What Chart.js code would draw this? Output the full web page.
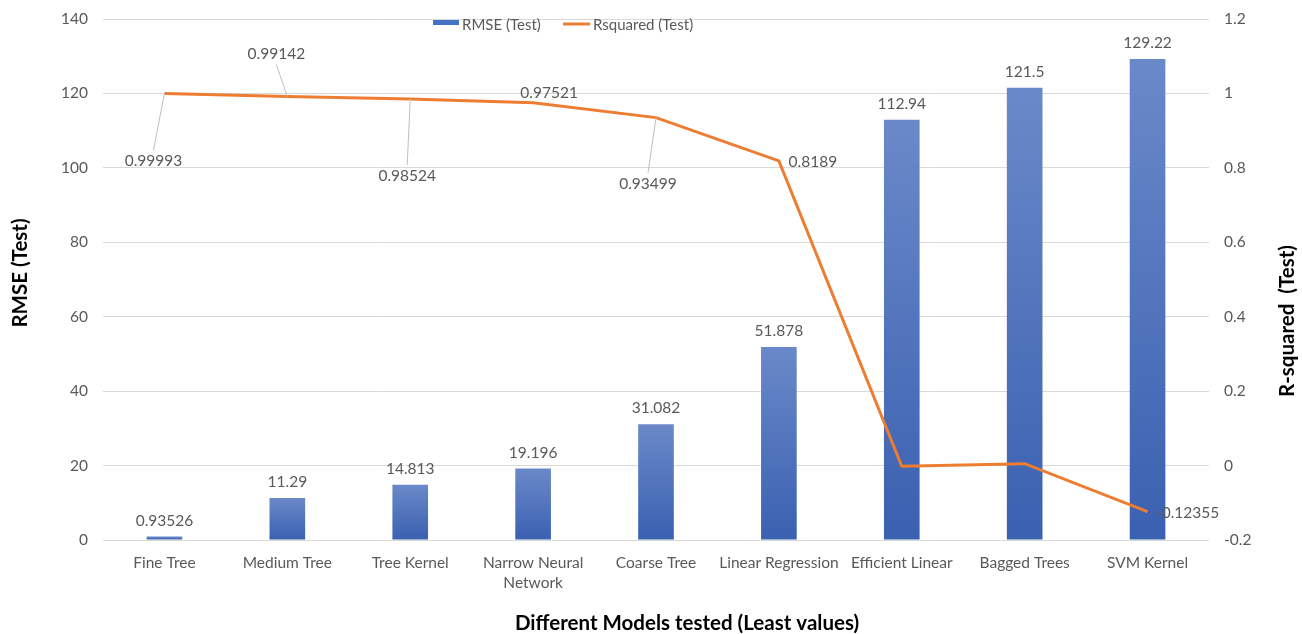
<!DOCTYPE html>
<html>
<head>
<meta charset="utf-8">
<title>RMSE and R-squared by model</title>
<script src="https://cdn.jsdelivr.net/npm/chart.js@4.4.1/dist/chart.umd.min.js"></script>
<style>
  html, body { margin: 0; padding: 0; background: #fff; }
  #wrap { width: 1302px; height: 634px; position: relative; }
</style>
</head>
<body>
<div id="wrap"><canvas id="modelChart"></canvas></div>
<script>
const models = [
  "Fine Tree", "Medium Tree", "Tree Kernel", ["Narrow Neural", "Network"],
  "Coarse Tree", "Linear Regression", "Efficient Linear", "Bagged Trees", "SVM Kernel"
];
const rmseTest = [0.93526, 11.29, 14.813, 19.196, 31.082, 51.878, 112.94, 121.5, 129.22];
const rsquaredTest = [0.99993, 0.99142, 0.98524, 0.97521, 0.93499, 0.8189, -0.002, 0.005, -0.12355];
const rmseTicks = { min: 0, max: 140, step: 20 };
const r2Ticks = { min: -0.2, max: 1.2, step: 0.2 };

// where each R-squared label sits relative to its point (null = not labelled)
const r2LabelPlacement = [
  { dx: -11, dy: 68, leader: true },
  { dx: -11, dy: -43, leader: true },
  { dx: -3, dy: 77, leader: true },
  { dx: 16, dy: -10, leader: false },
  { dx: -8, dy: 66, leader: true },
  { dx: 34, dy: 1, leader: false },
  null,
  null,
  { dx: 40, dy: 1, leader: false }
];

const FONT = "Lato, 'Open Sans', sans-serif";
const GREY = "#595959";
const BLUE_TOP = "#6a89c9";
const BLUE_BOTTOM = "#3a60b0";
const ORANGE = "#ed7d31";

function barFill(ctx) {
  const chart = ctx.chart;
  if (!chart.chartArea || ctx.type !== "data") return BLUE_BOTTOM;
  const y = chart.scales.y;
  const top = y.getPixelForValue(rmseTest[ctx.dataIndex]);
  const bottom = y.getPixelForValue(0);
  if (bottom - top < 1) return BLUE_BOTTOM;
  const g = chart.ctx.createLinearGradient(0, top, 0, bottom);
  g.addColorStop(0, BLUE_TOP);
  g.addColorStop(1, BLUE_BOTTOM);
  return g;
}

// fixed axis widths, no extra room reserved for the end tick labels
function fitVertical(width) {
  return s => {
    s.width = width;
    s.paddingTop = 0;
    s.paddingBottom = 0;
  };
}

const annotations = {
  id: "annotations",
  afterDatasetsDraw(chart) {
    const c = chart.ctx;
    const bars = chart.getDatasetMeta(0).data;
    const pts = chart.getDatasetMeta(1).data;
    c.save();
    c.font = "15.5px " + FONT;
    c.fillStyle = GREY;
    c.textAlign = "center";
    c.textBaseline = "middle";

    // RMSE values above the bars
    bars.forEach((bar, i) => {
      c.fillText(String(rmseTest[i]), bar.x, bar.y - 16);
    });

    // R-squared values with leader lines
    pts.forEach((p, i) => {
      const pl = r2LabelPlacement[i];
      if (!pl) return;
      const lx = p.x + pl.dx, ly = p.y + pl.dy;
      if (pl.leader) {
        const endY = pl.dy > 0 ? ly - 11 : ly + 11;
        c.strokeStyle = "#bfbfbf";
        c.lineWidth = 1;
        c.beginPath();
        c.moveTo(p.x, p.y);
        c.lineTo(lx, endY);
        c.stroke();
      }
      c.fillText(String(rsquaredTest[i]), lx, ly);
    });

    // legend
    c.fillStyle = "#4472c4";
    c.fillRect(433, 20, 26, 5);
    c.strokeStyle = ORANGE;
    c.lineWidth = 3;
    c.beginPath();
    c.moveTo(563, 24);
    c.lineTo(590, 24);
    c.stroke();
    c.font = "15px " + FONT;
    c.fillStyle = GREY;
    c.textAlign = "left";
    c.fillText("RMSE (Test)", 462, 25);
    c.fillText("Rsquared (Test)", 593, 25);

    // axis titles
    c.fillStyle = "#000";
    c.font = "bold 20.5px " + FONT;
    c.textAlign = "center";
    c.fillText("Different Models tested (Least values)", 687, 623);
    c.save();
    c.translate(20, 273);
    c.rotate(-Math.PI / 2);
    c.fillText("RMSE (Test)", 0, 0);
    c.restore();
    c.save();
    c.translate(1287, 321);
    c.rotate(-Math.PI / 2);
    c.fillText("R-squared  (Test)", 0, 0);
    c.restore();
    c.restore();
  }
};

new Chart(document.getElementById("modelChart"), {
  data: {
    labels: models,
    datasets: [
      {
        type: "bar",
        label: "RMSE (Test)",
        data: rmseTest,
        yAxisID: "y",
        backgroundColor: barFill,
        barPercentage: 0.58,
        categoryPercentage: 0.5,
        order: 2
      },
      {
        type: "line",
        label: "Rsquared (Test)",
        data: rsquaredTest,
        yAxisID: "y1",
        borderColor: ORANGE,
        borderWidth: 3,
        pointRadius: 0,
        tension: 0,
        fill: false,
        order: 1
      }
    ]
  },
  options: {
    responsive: true,
    maintainAspectRatio: false,
    animation: false,
    layout: { padding: { top: 19, left: 0, right: 0, bottom: 0 } },
    plugins: {
      legend: { display: false },
      tooltip: { enabled: false }
    },
    scales: {
      x: {
        grid: { display: false },
        border: { display: false },
        ticks: {
          color: GREY,
          font: { family: FONT, size: 15.5, lineHeight: 1.3 },
          padding: 5,
          maxRotation: 0,
          autoSkip: false
        },
        afterFit: s => { s.height = 94; }
      },
      y: {
        position: "left",
        min: rmseTicks.min,
        max: rmseTicks.max,
        grid: { color: "#d9d9d9", drawTicks: false },
        border: { display: false },
        ticks: {
          stepSize: rmseTicks.step,
          color: GREY,
          font: { family: FONT, size: 15.5 },
          padding: 15
        },
        afterFit: fitVertical(103)
      },
      y1: {
        position: "right",
        min: r2Ticks.min,
        max: r2Ticks.max,
        grid: { display: false, drawTicks: false },
        border: { display: false },
        ticks: {
          stepSize: r2Ticks.step,
          color: GREY,
          font: { family: FONT, size: 15.5 },
          padding: 15,
          callback: v => String(Math.round(v * 10) / 10)
        },
        afterFit: fitVertical(93)
      }
    }
  },
  plugins: [annotations]
});
</script>
</body>
</html>
